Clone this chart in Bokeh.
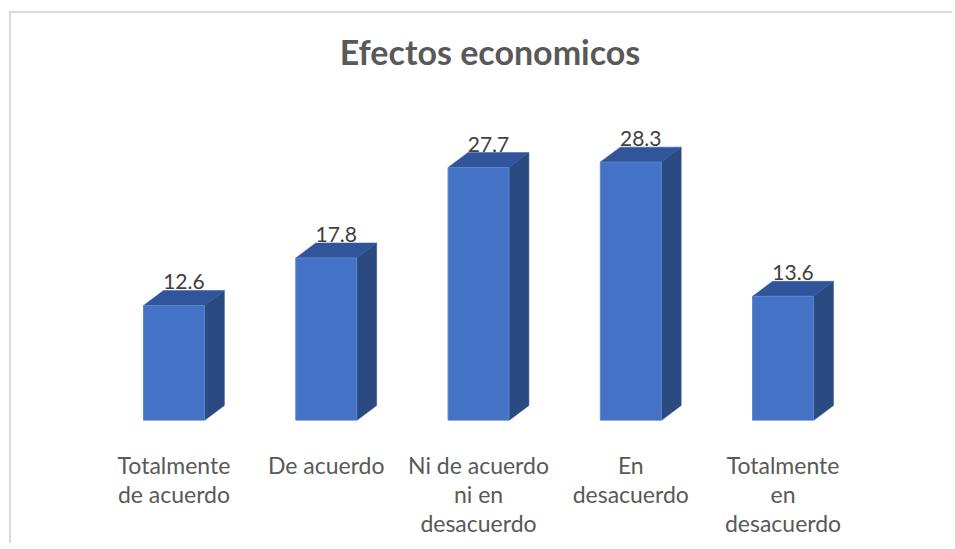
from bokeh.plotting import figure
from bokeh.models import FixedTicker
from bokeh.embed import file_html
from bokeh.resources import INLINE
from bokeh.core.properties import value

categories = ["Totalmente\nde acuerdo", "De acuerdo", "Ni de acuerdo\nni en\ndesacuerdo",
              "En\ndesacuerdo", "Totalmente\nen\ndesacuerdo"]
values = [12.6, 17.8, 27.7, 28.3, 13.6]
labels = ["12.6", "17.8", "27.7", "28.3", "13.6"]

xs = list(range(len(values)))
W = 0.4      # bar width (category units)
DX = 0.131   # 3D depth in x
DY = 1.64    # 3D depth in y

p = figure(width=943, height=532, output_backend="svg", toolbar_location=None,
           x_range=(-0.975, 5.126), y_range=(0, 36.58),
           min_border_left=14, min_border_right=0, min_border_top=73, min_border_bottom=125,
           title="Efectos economicos")
p.margin = (11, 0, 0, 9)
p.styles = {"border-top": "2px solid #D9D9D9", "border-left": "2px solid #D9D9D9"}
p.outline_line_color = None
p.grid.visible = False
p.yaxis.visible = False

p.title.align = "center"
p.title.text_font = "Lato"
p.title.text_font_size = "34px"
p.title.text_font_style = "bold"
p.title.text_color = "#595959"
p.title.standoff = 30

# side faces
side_x = [[x + W/2, x + W/2 + DX, x + W/2 + DX, x + W/2] for x in xs]
side_y = [[0, DY, v + DY, v] for v in values]
p.patches(side_x, side_y, fill_color="#2C4A82", line_color="#2C4A82", line_width=0.5)
# top faces
top_x = [[x - W/2, x + W/2, x + W/2 + DX, x - W/2 + DX] for x in xs]
top_y = [[v, v, v + DY, v + DY] for v in values]
p.patches(top_x, top_y, fill_color="#31559A", line_color="#31559A", line_width=0.5)
# front faces
p.vbar(x=xs, top=values, width=W, bottom=0, fill_color="#4472C4", line_color="#5B86D0", line_width=1)

# value labels
p.text(x=[x + DX/2 for x in xs], y=[v + DY for v in values], text=labels,
       text_align="center", text_baseline="bottom", y_offset=-1,
       text_font=value("Lato"), text_font_size="21px", text_color="#404040")

ax = p.xaxis[0]
ax.ticker = FixedTicker(ticks=xs)
ax.major_label_overrides = {i: c for i, c in enumerate(categories)}
ax.axis_line_color = None
ax.major_tick_line_color = None
ax.minor_tick_line_color = None
ax.major_label_standoff = 24
ax.major_label_text_font = "Lato"
ax.major_label_text_font_size = "23px"
ax.major_label_text_color = "#595959"
ax.major_label_text_line_height = 1.04
ax.major_label_text_align = "center"

open("out.html", "w").write(file_html(p, INLINE))
